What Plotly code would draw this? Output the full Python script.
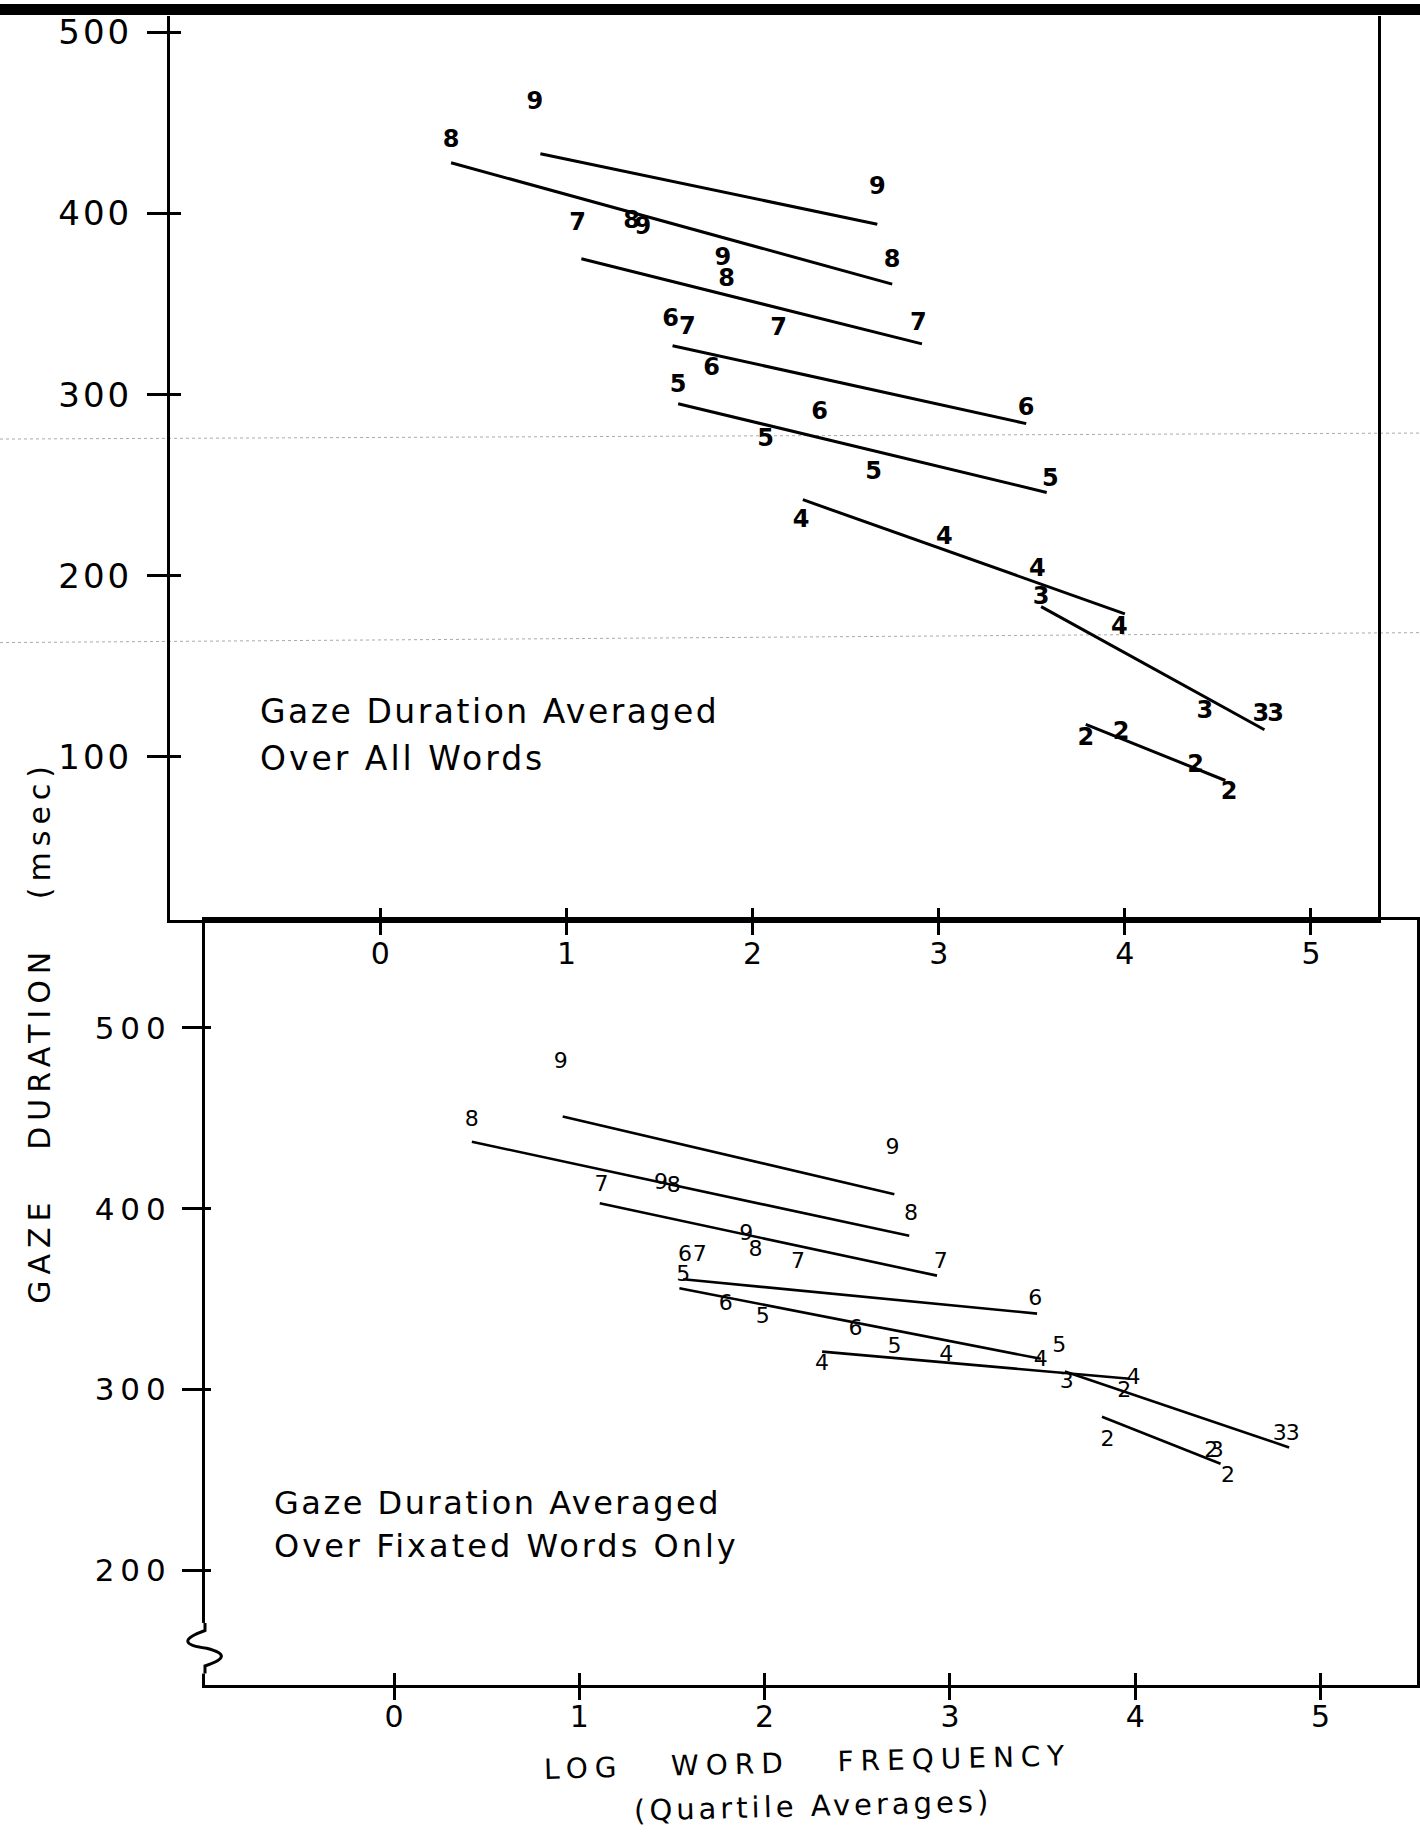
import plotly.graph_objects as go

W, H = 1420, 1834

# ---------------- data ----------------
word_lengths = [2, 3, 4, 5, 6, 7, 8, 9]
x_ticks = [0, 1, 2, 3, 4, 5]
top_y_ticks = [100, 200, 300, 400, 500]
bottom_y_ticks = [200, 300, 400, 500]

# Top panel: gaze duration averaged over all words (4 quartile points per word length)
top_pts_x = [[3.79, 3.98, 4.38, 4.56], [3.55, 4.43, 4.73, 4.81], [2.26, 3.03, 3.53, 3.97],
             [1.60, 2.07, 2.65, 3.60], [1.56, 1.78, 2.36, 3.47], [1.06, 1.65, 2.14, 2.89],
             [0.38, 1.35, 1.86, 2.75], [0.83, 1.41, 1.84, 2.67]]
top_pts_y = [[110, 113, 95, 80], [188, 125, 123, 123], [230, 221, 203, 171],
             [305, 275, 257, 253], [341, 314, 290, 292], [394, 337, 336, 339],
             [440, 395, 363, 374], [461, 392, 375, 414]]
top_fit_x = [[3.79, 4.54], [3.55, 4.75], [2.27, 4.00], [1.60, 3.58],
             [1.57, 3.47], [1.08, 2.91], [0.38, 2.75], [0.86, 2.67]]
top_fit_y = [[118, 87], [183, 115], [242, 179], [295, 246],
             [327, 284], [375, 328], [428, 361], [433, 394]]

# Bottom panel: gaze duration averaged over fixated words only
bot_pts_x = [[3.85, 3.94, 4.41, 4.50], [3.63, 4.44, 4.78, 4.85], [2.31, 2.98, 3.49, 3.99],
             [1.56, 1.99, 2.70, 3.59], [1.57, 1.79, 2.49, 3.46], [1.12, 1.65, 2.18, 2.95],
             [0.42, 1.51, 1.95, 2.79], [0.90, 1.44, 1.90, 2.69]]
bot_pts_y = [[272, 299, 266, 252], [304, 266, 275, 275], [314, 319, 316, 306],
             [363, 340, 323, 324], [374, 347, 333, 350], [413, 374, 370, 370],
             [449, 412, 377, 397], [481, 414, 386, 433]]
bot_fit_x = [[3.82, 4.46], [3.62, 4.83], [2.31, 3.97], [1.54, 3.49],
             [1.56, 3.47], [1.11, 2.93], [0.42, 2.78], [0.91, 2.70]]
bot_fit_y = [[285, 259], [310, 268], [321, 306], [356, 317],
             [361, 342], [403, 363], [437, 385], [451, 408]]

axis_break = [143, 171]

# ---------------- layout geometry ----------------
def px_x(p):
    return p / W

def px_y(p):
    return 1 - p / H

top_xdom = [px_x(170), px_x(1378)]
top_ydom = [px_y(918), px_y(12)]
top_xrange = [-1.13, 5.36]
top_yrange = [10, 509]

bot_xdom = [px_x(205), px_x(1417)]
bot_ydom = [px_y(1685), px_y(918)]
bot_xrange = [-1.02, 5.52]
bot_yrange = [136.5, 559.6]

FONT = "DejaVu Sans"

def spaced(t, s):
    return '<span style="letter-spacing:%spx">%s</span>' % (s, t)

fig = go.Figure()

for i, L in enumerate(word_lengths):
    fig.add_trace(go.Scatter(x=top_fit_x[i], y=top_fit_y[i], mode="lines",
                             line=dict(color="black", width=3),
                             xaxis="x", yaxis="y", showlegend=False, hoverinfo="skip"))
    fig.add_trace(go.Scatter(x=top_pts_x[i], y=top_pts_y[i], mode="text",
                             text=[str(L)] * len(top_pts_x[i]),
                             textfont=dict(family=FONT, size=24, color="black", weight="bold"),
                             xaxis="x3", yaxis="y3", showlegend=False, hoverinfo="skip"))
    fig.add_trace(go.Scatter(x=bot_fit_x[i], y=bot_fit_y[i], mode="lines",
                             line=dict(color="black", width=2.6),
                             xaxis="x2", yaxis="y2", showlegend=False, hoverinfo="skip"))
    fig.add_trace(go.Scatter(x=bot_pts_x[i], y=bot_pts_y[i], mode="text",
                             text=[str(L)] * len(bot_pts_x[i]),
                             textfont=dict(family=FONT, size=22, color="black"),
                             xaxis="x4", yaxis="y4", showlegend=False, hoverinfo="skip"))

base_axis = dict(showgrid=False, zeroline=False, linecolor="black", tickcolor="black",
                 tickwidth=2.5, showline=True, linewidth=3)
inside_axis = dict(showgrid=False, zeroline=False, showline=False, showticklabels=False,
                   ticks="inside", tickcolor="black", tickwidth=2.5)

fig.update_layout(
    width=W, height=H,
    margin=dict(l=0, r=0, t=0, b=0),
    paper_bgcolor="white", plot_bgcolor="white",
    showlegend=False,
    xaxis=dict(base_axis, domain=top_xdom, range=top_xrange, anchor="y",
               tickvals=x_ticks, ticktext=[str(v) for v in x_ticks],
               ticks="outside", ticklen=12, ticklabelstandoff=-7,
               tickfont=dict(family=FONT, size=30, color="black")),
    yaxis=dict(base_axis, domain=top_ydom, range=top_yrange, anchor="x",
               tickvals=top_y_ticks, ticktext=[spaced(str(v), 3) for v in top_y_ticks],
               ticks="outside", ticklen=20, ticklabelstandoff=8, mirror=True,
               tickfont=dict(family=FONT, size=34, color="black")),
    xaxis3=dict(inside_axis, overlaying="x", matches="x", anchor="y3", range=top_xrange,
                tickvals=x_ticks, ticklen=12),
    yaxis3=dict(inside_axis, overlaying="y", matches="y", anchor="x3", range=top_yrange,
                tickvals=top_y_ticks, ticklen=11),
    xaxis2=dict(base_axis, domain=bot_xdom, range=bot_xrange, anchor="y2",
                tickvals=x_ticks, ticktext=[str(v) for v in x_ticks],
                ticks="outside", ticklen=12, ticklabelstandoff=-9, mirror=True,
                tickfont=dict(family=FONT, size=30, color="black")),
    yaxis2=dict(base_axis, domain=bot_ydom, range=bot_yrange, anchor="x2",
                tickvals=bottom_y_ticks, ticktext=[spaced(str(v), 6) for v in bottom_y_ticks],
                ticks="outside", ticklen=20, ticklabelstandoff=4, mirror=True,
                tickfont=dict(family=FONT, size=31, color="black")),
    xaxis4=dict(inside_axis, overlaying="x2", matches="x2", anchor="y4", range=bot_xrange,
                tickvals=x_ticks, ticklen=12),
    yaxis4=dict(inside_axis, overlaying="y2", matches="y2", anchor="x4", range=bot_yrange,
                tickvals=bottom_y_ticks, ticklen=6),
)

# ---------------- text annotations ----------------
ann = []
ann.append(dict(text=spaced("Gaze Duration Averaged", 2.5), x=px_x(258), y=px_y(709),
                xanchor="left", yanchor="middle", size=33))
ann.append(dict(text=spaced("Over All Words", 3), x=px_x(258), y=px_y(756),
                xanchor="left", yanchor="middle", size=33))
ann.append(dict(text=spaced("Gaze Duration Averaged", 2.5), x=px_x(272), y=px_y(1502),
                xanchor="left", yanchor="middle", size=32))
ann.append(dict(text=spaced("Over Fixated Words Only", 3), x=px_x(272), y=px_y(1545),
                xanchor="left", yanchor="middle", size=32))
for a in ann:
    sz = a.pop("size")
    a.update(xref="paper", yref="paper", showarrow=False,
             font=dict(family=FONT, size=sz, color="black"))
    fig.add_annotation(**a)
fig.add_annotation(text=spaced("GAZE  &nbsp;DURATION &nbsp; (msec)", 6), xref="paper", yref="paper",
                   x=px_x(40), y=px_y(1030), textangle=-90, showarrow=False,
                   xanchor="center", yanchor="middle",
                   font=dict(family=FONT, size=30, color="black"))
fig.add_annotation(text=spaced("LOG &nbsp; WORD &nbsp; FREQUENCY", 7), xref="paper", yref="paper",
                   x=px_x(807), y=px_y(1762), textangle=-1.5, showarrow=False,
                   xanchor="center", yanchor="middle",
                   font=dict(family=FONT, size=28, color="black"))
fig.add_annotation(text=spaced("(Quartile Averages)", 4), xref="paper", yref="paper",
                   x=px_x(813), y=px_y(1806), textangle=-1.5, showarrow=False,
                   xanchor="center", yanchor="middle",
                   font=dict(family=FONT, size=29, color="black"))

# ---------------- decorations: scan edge, axis break ----------------
def bot_paper_y(v):
    return bot_ydom[0] + (v - bot_yrange[0]) / (bot_yrange[1] - bot_yrange[0]) * (bot_ydom[1] - bot_ydom[0])

ax_x = bot_xdom[0]
b0, b1 = bot_paper_y(axis_break[0]), bot_paper_y(axis_break[1])
span = b1 - b0
dx = 16 / W
mid = (b0 + b1) / 2
squiggle = "M %f %f L %f %f Q %f %f %f %f Q %f %f %f %f L %f %f" % (
    ax_x, b1,
    ax_x, b1 - 0.15 * span,
    ax_x - 2.2 * dx, mid + 0.1 * span, ax_x + 0.1 * dx, mid,
    ax_x + 2.0 * dx, mid - 0.15 * span, ax_x, b0 + 0.15 * span,
    ax_x, b0)
shapes = [
    dict(type="rect", xref="paper", yref="paper", x0=0, x1=1, y0=px_y(11), y1=1,
         fillcolor="black", line=dict(width=0), layer="above"),
    dict(type="line", xref="paper", yref="paper", x0=ax_x, x1=ax_x, y0=b0, y1=b1,
         line=dict(color="white", width=6), layer="above"),
    dict(type="path", xref="paper", yref="paper", layer="above", path=squiggle,
         line=dict(color="black", width=3)),
    dict(type="line", xref="paper", yref="paper", x0=0, x1=1, y0=px_y(436), y1=px_y(430),
         line=dict(color="#aaaaaa", width=1, dash="dot"), layer="below"),
    dict(type="line", xref="paper", yref="paper", x0=0, x1=1, y0=px_y(640), y1=px_y(630),
         line=dict(color="#aaaaaa", width=1, dash="dot"), layer="below"),
]
fig.update_layout(shapes=shapes)

fig.write_html("out.html", config={"displayModeBar": False},
               post_script="document.body.style.margin='0';")
